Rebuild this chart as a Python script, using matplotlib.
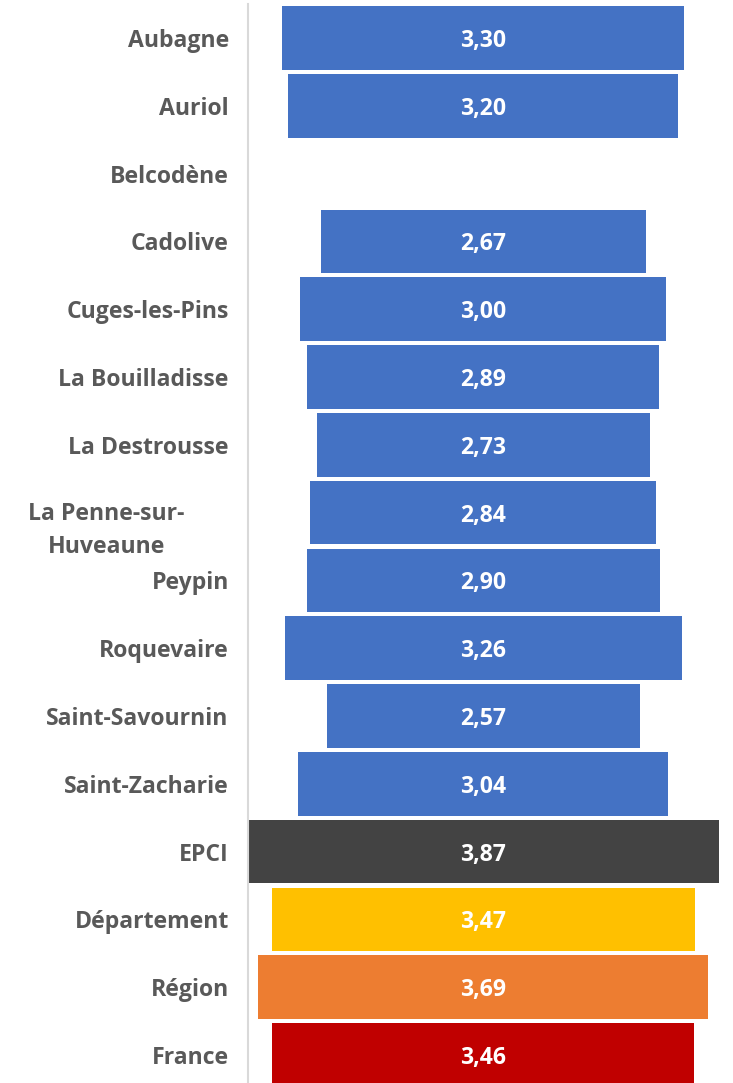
import matplotlib
matplotlib.use("Agg")
import matplotlib.pyplot as plt
from matplotlib.transforms import blended_transform_factory

categories = ["Aubagne", "Auriol", "Belcodène", "Cadolive", "Cuges-les-Pins",
              "La Bouilladisse", "La Destrousse", "La Penne-sur-\nHuveaune",
              "Peypin", "Roquevaire", "Saint-Savournin", "Saint-Zacharie",
              "EPCI", "Département", "Région", "France"]
values = [3.30, 3.20, None, 2.67, 3.00, 2.89, 2.73, 2.84, 2.90, 3.26,
          2.57, 3.04, 3.87, 3.47, 3.69, 3.46]
colors = ["#4472C4"] * 12 + ["#434343", "#FFC000", "#ED7D31", "#C00000"]

W, H = 733, 1083
fig = plt.figure(figsize=(W / 100, H / 100), dpi=100)
font = "Open Sans"
label_color = "#595959"
fs = 16.6

row = 67.8
top_px = 38 - row / 2
bottom_px = top_px + row * len(categories)
left_px, right_px = 247.5, 719
ax = fig.add_axes([left_px / W, 1 - bottom_px / H,
                   (right_px - left_px) / W, (bottom_px - top_px) / H])

vmax = max(v for v in values if v is not None)
n = len(categories)
for i, (v, c) in enumerate(zip(values, colors)):
    if v is None:
        continue
    ax.barh(i, v, left=-v / 2, height=0.94, color=c)
    ax.text(0, i, f"{v:.2f}".replace(".", ","), ha="center",
            va="center_baseline", color="white", fontsize=fs,
            fontweight="bold", family=font)

ax.set_xlim(-vmax / 2, vmax / 2)
ax.set_ylim(n - 0.5, -0.5)
ax.set_xticks([])
ax.set_yticks(range(n))
ax.set_yticklabels(["" if "\n" in c else c for c in categories],
                   fontsize=fs, fontweight="bold", color=label_color,
                   family=font)
ax.tick_params(axis="y", length=0, pad=13.5)
for s in ["top", "right", "bottom"]:
    ax.spines[s].set_visible(False)
ax.spines["left"].set_color("#D9D9D9")
ax.spines["left"].set_linewidth(1.5)

# wrapped label drawn as a centred two-line block
for i, c in enumerate(categories):
    if "\n" in c:
        tr = blended_transform_factory(fig.transFigure, ax.transData)
        ax.text(106.5 / W, i + 0.26, c, transform=tr, ha="center",
                va="center", multialignment="center", fontsize=fs,
                fontweight="bold", color=label_color, family=font,
                linespacing=1.5, clip_on=False)

fig.savefig("out.png", dpi=100)
